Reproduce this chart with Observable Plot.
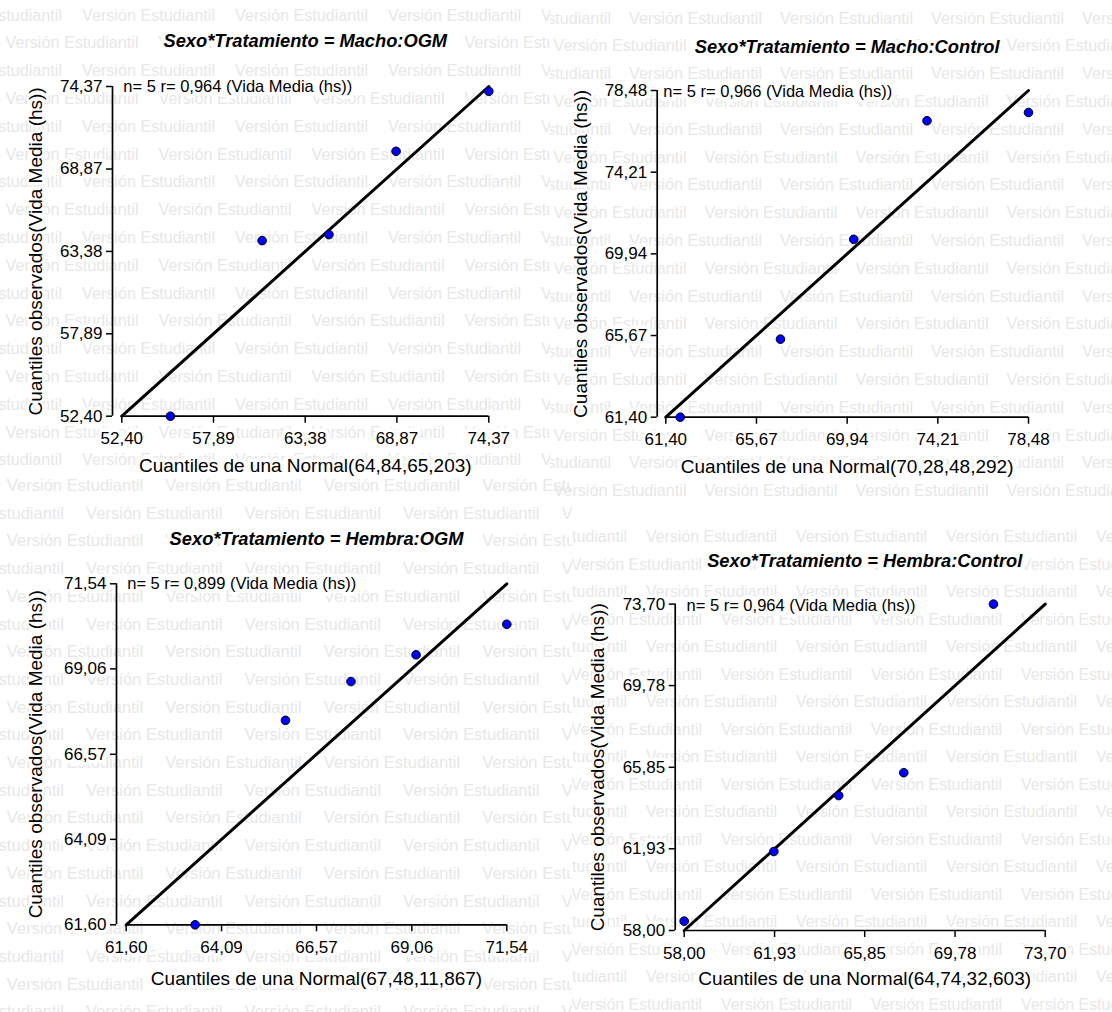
<!DOCTYPE html>
<html>
<head>
<meta charset="utf-8">
<script src="https://cdn.jsdelivr.net/npm/d3@7"></script>
<script src="https://cdn.jsdelivr.net/npm/@observablehq/plot@0.6"></script>
<style>
  html, body { margin: 0; padding: 0; background: #ffffff; }
  #root { position: relative; width: 1112px; height: 1012px; overflow: hidden; background: #ffffff; }
  #root > div { position: absolute; }
  #root svg { display: block; max-width: none !important; }
</style>
</head>
<body>
<div id="root"></div>
<script>
// ---------------- DATA ----------------
const panelTitles = [
  "Sexo*Tratamiento = Macho:OGM",
  "Sexo*Tratamiento = Macho:Control",
  "Sexo*Tratamiento = Hembra:OGM",
  "Sexo*Tratamiento = Hembra:Control"
];
const nValues = [5, 5, 5, 5];
const rValues = [0.964, 0.966, 0.899, 0.964];
const normalMeans = [64.84, 70.28, 67.48, 64.74];
const normalVars = [65.203, 48.292, 11.867, 32.603];
const variableName = "Vida Media (hs)";

// theoretical (normal) quantiles, x
const theoMachoOGM = [55.31, 60.80, 64.80, 68.82, 74.37];
const theoMachoControl = [62.08, 66.80, 70.25, 73.70, 78.48];
const theoHembraOGM = [63.40, 65.76, 67.47, 69.17, 71.54];
const theoHembraControl = [58.00, 61.90, 64.72, 67.55, 71.45];
// observed quantiles, y
const obsMachoOGM = [52.40, 64.10, 64.50, 70.05, 74.05];
const obsMachoControl = [61.40, 65.48, 70.70, 76.90, 77.33];
const obsHembraOGM = [61.60, 67.56, 68.69, 69.47, 70.36];
const obsHembraControl = [58.45, 61.80, 64.49, 65.59, 73.70];

// tick labels (both axes share them)
const ticksMachoOGM = [52.40, 57.89, 63.38, 68.87, 74.37];
const ticksMachoControl = [61.40, 65.67, 69.94, 74.21, 78.48];
const ticksHembraOGM = [61.60, 64.09, 66.57, 69.06, 71.54];
const ticksHembraControl = [58.00, 61.93, 65.85, 69.78, 73.70];

const theo = [theoMachoOGM, theoMachoControl, theoHembraOGM, theoHembraControl];
const obs = [obsMachoOGM, obsMachoControl, obsHembraOGM, obsHembraControl];
const ticks = [ticksMachoOGM, ticksMachoControl, ticksHembraOGM, ticksHembraControl];

const watermarkText = "Versión Estudiantil";

// ---------------- LAYOUT ----------------
const FONT = "'Liberation Sans', Arial, Helvetica, sans-serif";
const layout = [
  {left: 0,   top: 0,   w: 556, h: 500, yAxisX: 112,   x0: 121.3, x1: 488.3,  yTop: 86,    yBot: 415.7, yTitleDx: -77, xTitleDy: 49.3, titleDy: -45, noteDx: 1.5, noteDy: 0},
  {left: 556, top: 0,   w: 556, h: 500, yAxisX: 656.7, x0: 665.3, x1: 1028,   yTop: 90,    yBot: 416.7, yTitleDx: -76, xTitleDy: 50,   titleDy: -43, noteDx: -2.5, noteDy: 1.5},
  {left: 0,   top: 500, w: 556, h: 512, yAxisX: 116,   x0: 125.7, x1: 506.3,  yTop: 583.3, yBot: 924.3, yTitleDx: -81, xTitleDy: 54,   titleDy: -45, noteDx: 1, noteDy: 0},
  {left: 556, top: 500, w: 556, h: 512, yAxisX: 674.7, x0: 683.7, x1: 1044.7, yTop: 603.6, yBot: 930,   yTitleDx: -77, xTitleDy: 48.3, titleDy: -43, noteDx: 2.3, noteDy: 1.4}
];
const wmTiles = [
  {cx: 0,   cy: 0,   cw: 550, ch: 474, aOrigin: 82,  period: 153,   rowA: 15,  step: 27.8, len: 133,   fs: 16},
  {cx: 550, cy: 0,   cw: 562, ch: 500, aOrigin: 629, period: 151,   rowA: 18,  step: 27.8, len: 133,   fs: 16},
  {cx: 0,   cy: 474, cw: 572, ch: 538, aOrigin: 86,  period: 158.5, rowA: 513, step: 27.7, len: 136.5, fs: 16.5},
  {cx: 572, cy: 525, cw: 540, ch: 487, aOrigin: 646, period: 150,   rowA: 536.7, step: 27.5, len: 131, fs: 15.8}
];

const root = document.getElementById("root");

// ---------------- WATERMARK ----------------
const wm = d3.select(root).append("svg")
  .attr("width", 1112).attr("height", 1012)
  .style("position", "absolute").style("left", "0px").style("top", "0px");
const defs = wm.append("defs");
wmTiles.forEach((t, i) => {
  defs.append("clipPath").attr("id", "wmclip" + i)
    .append("rect").attr("x", t.cx).attr("y", t.cy).attr("width", t.cw).attr("height", t.ch);
  const g = wm.append("g").attr("clip-path", `url(#wmclip${i})`)
    .attr("font-family", FONT).attr("font-size", t.fs).attr("fill", "#e7e7e7");
  const kMin = Math.floor((t.cy - 20 - t.rowA) / t.step);
  const kMax = Math.ceil((t.cy + t.ch + 20 - t.rowA) / t.step);
  for (let k = kMin; k <= kMax; k++) {
    const y = t.rowA + k * t.step;
    const shift = (((k % 2) + 2) % 2 === 0) ? 0 : -t.period / 2;
    let start = t.aOrigin + shift;
    while (start > t.cx - t.period) start -= t.period;
    for (let x = start; x < t.cx + t.cw; x += t.period) {
      g.append("text").attr("x", x).attr("y", y).attr("dy", "0.35em")
        .attr("textLength", t.len).attr("lengthAdjust", "spacingAndGlyphs")
        .text(watermarkText);
    }
  }
});

// ---------------- PANELS ----------------
const fmt = v => d3.format(".2f")(v).replace(".", ",");

for (let i = 0; i < 4; i++) {
  const L = layout[i];
  const tk = ticks[i];
  const lo = tk[0], hi = tk[tk.length - 1];
  const pts = theo[i].map((x, j) => ({x, y: obs[i][j]}));
  const inset = L.x0 - L.yAxisX;
  const xTitle = `Cuantiles de una Normal(${fmt(normalMeans[i])},${d3.format(".3f")(normalVars[i]).replace(".", ",")})`;
  const note = `n= ${nValues[i]} r= ${d3.format(".3f")(rValues[i]).replace(".", ",")} (${variableName})`;
  const yTitle = `Cuantiles observados(${variableName})`;

  const chart = Plot.plot({
    width: L.w,
    height: L.h,
    marginLeft: L.yAxisX - L.left,
    marginRight: L.left + L.w - L.x1,
    marginTop: L.yTop - L.top,
    marginBottom: L.top + L.h - L.yBot,
    style: {background: "transparent", fontFamily: FONT, overflow: "visible"},
    x: {domain: [lo, hi], insetLeft: inset},
    y: {domain: [lo, hi]},
    marks: [
      // axis lines
      Plot.ruleY([{y: lo, x1: lo, x2: hi}], {y: "y", x1: "x1", x2: "x2", stroke: "#000", strokeWidth: 1.7}),
      Plot.ruleX([{x: lo, y1: lo, y2: hi}], {x: "x", y1: "y1", y2: "y2", dx: -inset, stroke: "#000", strokeWidth: 1.7}),
      Plot.axisX({ticks: tk, tickFormat: fmt, tickSize: 7, tickPadding: 9, fontSize: 17, label: null,
        stroke: "#000", strokeWidth: 1.5, textStroke: "white", textStrokeWidth: 7, fill: "#000"}),
      Plot.axisY({ticks: tk, tickFormat: fmt, tickSize: 6, tickPadding: 4, fontSize: 17, label: null,
        stroke: "#000", strokeWidth: 1.5, textStroke: "white", textStrokeWidth: 7, fill: "#000"}),
      // reference line
      Plot.line([{x: lo, y: lo}, {x: hi, y: hi}], {x: "x", y: "y", stroke: "#000", strokeWidth: 3}),
      // points
      Plot.dot(pts, {x: "x", y: "y", r: 4.3, fill: "#0000ff", stroke: "#000", strokeWidth: 1}),
      // texts
      Plot.text([{x: (lo + hi) / 2, y: hi, t: panelTitles[i]}], {x: "x", y: "y", text: "t", dy: L.titleDy,
        fontSize: 18.3, fontWeight: "bold", fontStyle: "italic", fill: "#000", stroke: "white", strokeWidth: 8}),
      Plot.text([{x: lo, y: hi, t: note}], {x: "x", y: "y", text: "t", dx: L.noteDx, dy: L.noteDy,
        textAnchor: "start", fontSize: 16.5, fill: "#000", stroke: "white", strokeWidth: 8}),
      Plot.text([{x: (lo + hi) / 2, y: lo, t: xTitle}], {x: "x", y: "y", text: "t", dy: L.xTitleDy,
        fontSize: 19, fill: "#000", stroke: "white", strokeWidth: 7}),
      Plot.text([{x: lo, y: (lo + hi) / 2, t: yTitle}], {x: "x", y: "y", text: "t", dx: -inset + L.yTitleDx,
        rotate: -90, fontSize: 19, fill: "#000", stroke: "white", strokeWidth: 5})
    ]
  });
  const holder = document.createElement("div");
  holder.style.left = L.left + "px";
  holder.style.top = L.top + "px";
  holder.style.width = L.w + "px";
  holder.style.height = L.h + "px";
  holder.appendChild(chart);
  root.appendChild(holder);
}
</script>
</body>
</html>
